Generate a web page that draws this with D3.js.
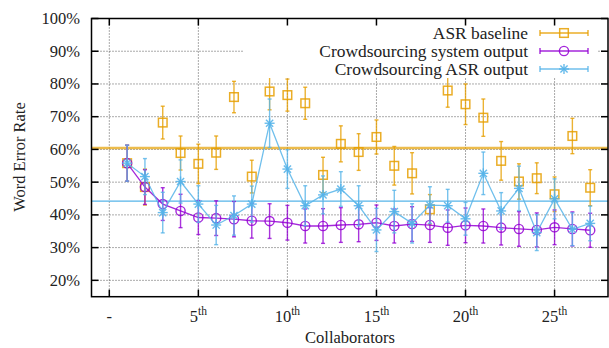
<!DOCTYPE html>
<html>
<head>
<meta charset="utf-8">
<script src="https://cdn.jsdelivr.net/npm/d3@7"></script>
<style>
  body { margin: 0; background: #fff; }
  text { font-family: "Liberation Serif", "Times New Roman", serif; fill: #222; }
</style>
</head>
<body>
<div id="chart"></div>
<script>
const WIDTH = 609;
const HEIGHT = 348;

// valores (porcentaje)
const collaborators = [1, 2, 3, 4, 5, 6, 7, 8, 9, 10, 11, 12, 13, 14, 15, 16, 17, 18, 19, 20, 21, 22, 23, 24, 25, 26, 27];

const asrBaseline = [55.8, 48.5, 68.2, 58.9, 55.6, 59.0, 76.0, 51.7, 77.7, 76.6, 74.1, 52.2, 61.7, 59.2, 63.8, 55.0, 52.7, 41.7, 78.0, 73.8, 69.7, 56.5, 50.2, 51.2, 46.3, 64.1, 48.3];
const asrBaselineErr = [5.5, 5.5, 5.0, 5.2, 6.0, 5.1, 4.8, 5.0, 5.6, 4.9, 4.9, 5.4, 5.5, 5.6, 5.2, 5.9, 6.3, 4.5, 5.1, 6.2, 5.7, 5.9, 5.4, 4.7, 5.3, 5.4, 5.5];

const systemOutput = [55.8, 48.5, 43.3, 41.2, 39.2, 39.0, 38.7, 38.2, 38.1, 37.6, 36.6, 36.6, 36.9, 37.1, 37.6, 36.6, 37.2, 36.9, 36.1, 36.8, 36.6, 36.1, 35.7, 35.4, 36.2, 35.7, 35.3];
const systemOutputErr = [5.5, 5.3, 5.0, 5.1, 5.2, 5.3, 5.4, 5.3, 5.3, 5.3, 5.2, 5.3, 5.3, 5.3, 5.4, 5.2, 5.3, 5.3, 5.4, 5.3, 5.2, 5.3, 5.3, 5.2, 5.3, 5.2, 5.2];

const crowdAsr = [55.8, 51.7, 40.7, 50.2, 43.3, 36.9, 39.8, 43.3, 68.0, 54.0, 42.8, 46.1, 47.9, 42.8, 35.4, 41.0, 37.4, 43.0, 42.8, 38.8, 52.7, 41.2, 48.1, 34.6, 44.9, 35.6, 37.4];
const crowdAsrErr = [5.5, 5.5, 6.2, 6.6, 5.6, 6.0, 6.0, 5.5, 7.4, 5.9, 6.1, 5.8, 5.3, 6.1, 6.6, 6.5, 6.0, 5.6, 5.0, 5.0, 6.5, 5.6, 6.8, 5.5, 6.1, 5.0, 5.3];

// lineas horizontales (promedios)
const asrBaselineMean = 60.4;
const crowdAsrMean = 44.2;

const yTicks = [20, 30, 40, 50, 60, 70, 80, 90, 100];
const xTicks = [0, 5, 10, 15, 20, 25];
const xTickLabels = ["-", "5", "10", "15", "20", "25"];

const legendLabels = ["ASR baseline", "Crowdsourcing system output", "Crowdsourcing ASR output"];

const ORANGE = "#e69f00";
const PURPLE = "#9400d3";
const BLUE = "#56b4e9";

const plotLeft = 91.5, plotRight = 608, plotTop = 18.5, plotBottom = 296.7;

const x = d3.scaleLinear().domain([-1, 28]).range([plotLeft, plotRight]);
const y = d3.scaleLinear().domain([15, 100]).range([plotBottom, plotTop]);

const svg = d3.select("#chart")
    .append("svg")
    .attr("width", WIDTH)
    .attr("height", HEIGHT);

// grilla punteada
svg.append("g")
    .selectAll("line")
    .data(yTicks.filter(function(d) { return d < 100; }))
    .enter().append("line")
    .attr("x1", plotLeft).attr("x2", plotRight)
    .attr("y1", function(d) { return y(d); })
    .attr("y2", function(d) { return y(d); })
    .attr("stroke", "#555")
    .attr("stroke-width", 1)
    .attr("stroke-dasharray", "1,2");

svg.append("g")
    .selectAll("line")
    .data(xTicks)
    .enter().append("line")
    .attr("x1", function(d) { return x(d); })
    .attr("x2", function(d) { return x(d); })
    .attr("y1", plotTop).attr("y2", plotBottom)
    .attr("stroke", "#555")
    .attr("stroke-width", 1)
    .attr("stroke-dasharray", "1,2");

// lineas de promedio
svg.append("line")
    .attr("x1", plotLeft).attr("x2", plotRight)
    .attr("y1", y(asrBaselineMean)).attr("y2", y(asrBaselineMean))
    .attr("stroke", ORANGE)
    .attr("stroke-opacity", 0.7)
    .attr("stroke-width", 2.5);

svg.append("line")
    .attr("x1", plotLeft).attr("x2", plotRight)
    .attr("y1", y(crowdAsrMean)).attr("y2", y(crowdAsrMean))
    .attr("stroke", BLUE)
    .attr("stroke-width", 1.2);

function errorBars(values, errs, color) {
    const g = svg.append("g")
        .attr("stroke", color)
        .attr("stroke-width", 1.4)
        .attr("stroke-opacity", 0.8);
    collaborators.forEach(function(c, i) {
        const cx = x(c);
        const y1 = y(values[i] + errs[i]);
        const y2 = y(values[i] - errs[i]);
        g.append("line").attr("x1", cx).attr("x2", cx).attr("y1", y1).attr("y2", y2);
        g.append("line").attr("x1", cx - 2).attr("x2", cx + 2).attr("y1", y1).attr("y2", y1);
        g.append("line").attr("x1", cx - 2).attr("x2", cx + 2).attr("y1", y2).attr("y2", y2);
    });
}

function seriesLine(values, color) {
    const line = d3.line()
        .x(function(d, i) { return x(collaborators[i]); })
        .y(function(d) { return y(d); });
    svg.append("path")
        .datum(values)
        .attr("d", line)
        .attr("fill", "none")
        .attr("stroke", color)
        .attr("stroke-opacity", 0.85)
        .attr("stroke-width", 1.3);
}

function drawSymbol(g, type, cx, cy, color) {
    if (type === "square") {
        g.append("rect")
            .attr("x", cx - 4.3).attr("y", cy - 4.3)
            .attr("width", 8.6).attr("height", 8.6)
            .attr("fill", "none")
            .attr("stroke", color)
            .attr("stroke-opacity", 0.85)
            .attr("stroke-width", 1.5);
    } else if (type === "circle") {
        g.append("circle")
            .attr("cx", cx).attr("cy", cy).attr("r", 4.6)
            .attr("fill", "none")
            .attr("stroke", color)
            .attr("stroke-opacity", 0.85)
            .attr("stroke-width", 1.4);
    } else {
        const r = 5, d = 3.6;
        const s = g.append("g").attr("stroke", color).attr("stroke-width", 1.4).attr("stroke-opacity", 0.9);
        s.append("line").attr("x1", cx - r).attr("x2", cx + r).attr("y1", cy).attr("y2", cy);
        s.append("line").attr("x1", cx).attr("x2", cx).attr("y1", cy - r).attr("y2", cy + r);
        s.append("line").attr("x1", cx - d).attr("x2", cx + d).attr("y1", cy - d).attr("y2", cy + d);
        s.append("line").attr("x1", cx - d).attr("x2", cx + d).attr("y1", cy + d).attr("y2", cy - d);
    }
}

function points(values, type, color) {
    const g = svg.append("g");
    values.forEach(function(v, i) {
        drawSymbol(g, type, x(collaborators[i]), y(v), color);
    });
}

// ASR baseline: solo errorbars
errorBars(asrBaseline, asrBaselineErr, ORANGE);
points(asrBaseline, "square", ORANGE);

// system output
errorBars(systemOutput, systemOutputErr, PURPLE);
seriesLine(systemOutput, PURPLE);
points(systemOutput, "circle", PURPLE);

// crowdsourcing ASR output
errorBars(crowdAsr, crowdAsrErr, BLUE);
seriesLine(crowdAsr, BLUE);
points(crowdAsr, "star", BLUE);

// leyenda con fondo blanco
const legend = svg.append("g");
legend.append("rect")
    .attr("x", 243).attr("y", 20)
    .attr("width", 355).attr("height", 58)
    .attr("fill", "#fff");

const legendTypes = ["square", "circle", "star"];
const legendColors = [ORANGE, PURPLE, BLUE];
legendLabels.forEach(function(label, i) {
    const ly = 33 + i * 18;
    legend.append("text")
        .attr("x", 528).attr("y", ly + 5.8)
        .attr("text-anchor", "end")
        .attr("font-size", "17.4px")
        .text(label);
    const g = legend.append("g")
        .attr("stroke", legendColors[i])
        .attr("stroke-width", 1.4)
        .attr("stroke-opacity", 0.85);
    g.append("line").attr("x1", 540).attr("x2", 588).attr("y1", ly).attr("y2", ly);
    g.append("line").attr("x1", 540).attr("x2", 540).attr("y1", ly - 3).attr("y2", ly + 3);
    g.append("line").attr("x1", 588).attr("x2", 588).attr("y1", ly - 3).attr("y2", ly + 3);
    drawSymbol(legend, legendTypes[i], 564, ly, legendColors[i]);
});

// marco y ticks
const frame = svg.append("g").attr("stroke", "#000").attr("stroke-width", 1.5);
frame.append("rect")
    .attr("x", plotLeft).attr("y", plotTop)
    .attr("width", plotRight - plotLeft).attr("height", plotBottom - plotTop)
    .attr("fill", "none");

yTicks.forEach(function(t) {
    frame.append("line").attr("x1", plotLeft).attr("x2", plotLeft + 7).attr("y1", y(t)).attr("y2", y(t));
    frame.append("line").attr("x1", plotRight - 7).attr("x2", plotRight).attr("y1", y(t)).attr("y2", y(t));
});
xTicks.forEach(function(t) {
    frame.append("line").attr("x1", x(t)).attr("x2", x(t)).attr("y1", plotBottom).attr("y2", plotBottom - 7);
    frame.append("line").attr("x1", x(t)).attr("x2", x(t)).attr("y1", plotTop).attr("y2", plotTop + 7);
});

// etiquetas eje y
svg.append("g")
    .selectAll("text")
    .data(yTicks)
    .enter().append("text")
    .attr("x", 80)
    .attr("y", function(d) { return y(d) + 5.5; })
    .attr("text-anchor", "end")
    .attr("font-size", "16.5px")
    .text(function(d) { return d + "%"; });

// etiquetas eje x con superindice
xTicks.forEach(function(t, i) {
    const txt = svg.append("text")
        .attr("x", x(t))
        .attr("y", 322)
        .attr("text-anchor", "middle")
        .attr("font-size", "16.5px");
    txt.append("tspan").text(xTickLabels[i]);
    if (t > 0) {
        txt.append("tspan")
            .attr("dy", -7)
            .attr("font-size", "11.5px")
            .text("th");
    }
});

svg.append("text")
    .attr("x", 350)
    .attr("y", 343)
    .attr("text-anchor", "middle")
    .attr("font-size", "16.5px")
    .text("Collaborators");

svg.append("text")
    .attr("transform", "translate(25,157) rotate(-90)")
    .attr("text-anchor", "middle")
    .attr("font-size", "16.5px")
    .text("Word Error Rate");
</script>
</body>
</html>
